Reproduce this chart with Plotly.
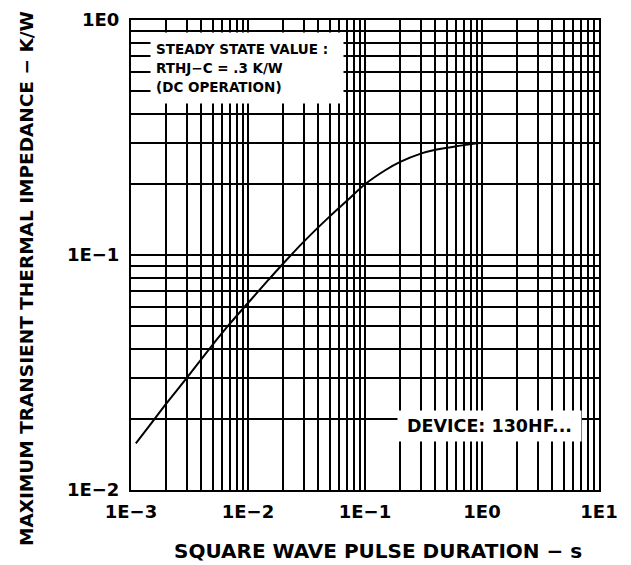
import plotly.graph_objects as go

# Data
pulse_duration_s = [1.1e-3, 1.5e-3, 2e-3, 3e-3, 4.7e-3, 7e-3, 0.01, 0.015, 0.02, 0.03,
                    0.05, 0.07, 0.1, 0.15, 0.2, 0.3, 0.41, 0.6, 1.0]
zth_k_per_w = [0.0158, 0.0193, 0.0233, 0.030, 0.040, 0.051, 0.0625, 0.0785, 0.092, 0.114,
               0.146, 0.170, 0.200, 0.230, 0.249, 0.270, 0.281, 0.290, 0.300]

x_decades = [-3, -2, -1, 0, 1]
x_tick_labels = ["1E\u22123", "1E\u22122", "1E\u22121", "1E0", "1E1"]
y_decades = [-2, -1, 0]
y_tick_labels = ["1E\u22122", "1E\u22121", "1E0"]

steady_state_lines = ["STEADY STATE VALUE :", "RTHJ\u2212C = .3 K/W", "(DC OPERATION)"]
device_label = "DEVICE: 130HF..."
x_title = "SQUARE WAVE PULSE DURATION \u2212 s"
y_title = "MAXIMUM TRANSIENT THERMAL IMPEDANCE \u2212 K/W"

FONT = "DejaVu Sans"


def grid_ticks(decades, labels):
    vals, texts = [], []
    for i, d in enumerate(decades):
        vals.append(10 ** d)
        texts.append(labels[i])
        if i < len(decades) - 1:
            for m in range(2, 10):
                vals.append(m * 10 ** d)
                texts.append("")
    return vals, texts


xv, xt = grid_ticks(x_decades, x_tick_labels)
yv, yt = grid_ticks(y_decades, y_tick_labels)

fig = go.Figure()
fig.add_trace(go.Scatter(
    x=pulse_duration_s, y=zth_k_per_w, mode="lines",
    line=dict(color="black", width=2, shape="spline", smoothing=0.9),
    showlegend=False, hoverinfo="skip"))

axis_common = dict(
    type="log", showgrid=True, gridcolor="black", gridwidth=1.7,
    showline=True, linecolor="black", linewidth=2, mirror=True,
    ticks="", zeroline=False,
    tickfont=dict(family=FONT, size=18, color="black", weight=700),
)

fig.update_xaxes(range=[-3, 1], tickvals=xv, ticktext=xt,
                 ticklabelstandoff=4, **axis_common)
fig.update_yaxes(range=[-2, 0], tickvals=yv, ticktext=yt,
                 ticklabelstandoff=6, **axis_common)

W, H = 631, 565
L, R, T, B = 131, 32, 20, 75
PW, PH = W - L - R, H - T - B


def px(xp):
    return (xp - L) / PW


def py(yp):
    return (H - B - yp) / PH


# white panel behind the steady-state note
fig.add_annotation(
    xref="paper", yref="paper", x=px(150), y=py(32), xanchor="left", yanchor="top",
    text=" ", showarrow=False, width=190, height=68, bgcolor="white", borderpad=1,
    font=dict(family=FONT, size=12))
for line_text, yc in zip(steady_state_lines, [49, 68, 87]):
    fig.add_annotation(
        xref="paper", yref="paper", x=px(154), y=py(yc), xanchor="left", yanchor="middle",
        text=line_text, showarrow=False,
        font=dict(family=FONT, size=13.5, color="black", weight=700))

fig.add_annotation(
    xref="paper", yref="paper", x=px(397), y=py(410), xanchor="left", yanchor="top",
    text=device_label, align="center", valign="middle", showarrow=False,
    width=181, height=28, bgcolor="white", borderpad=1,
    font=dict(family=FONT, size=17.5, color="black", weight=700))

fig.add_annotation(
    xref="paper", yref="paper", x=px(378), y=py(551), xanchor="center", yanchor="middle",
    text=x_title, showarrow=False,
    font=dict(family=FONT, size=20, color="black", weight=700))

fig.add_annotation(
    xref="paper", yref="paper", x=px(26), y=py(279), xanchor="center", yanchor="middle",
    text=y_title, textangle=-90, showarrow=False,
    font=dict(family=FONT, size=18.5, color="black", weight=700))

fig.update_layout(
    width=W, height=H, margin=dict(l=L, r=R, t=T, b=B, autoexpand=False),
    paper_bgcolor="white", plot_bgcolor="white",
)

fig.write_html("out.html", config={"displayModeBar": False},
               post_script="document.body.style.margin='0';")
